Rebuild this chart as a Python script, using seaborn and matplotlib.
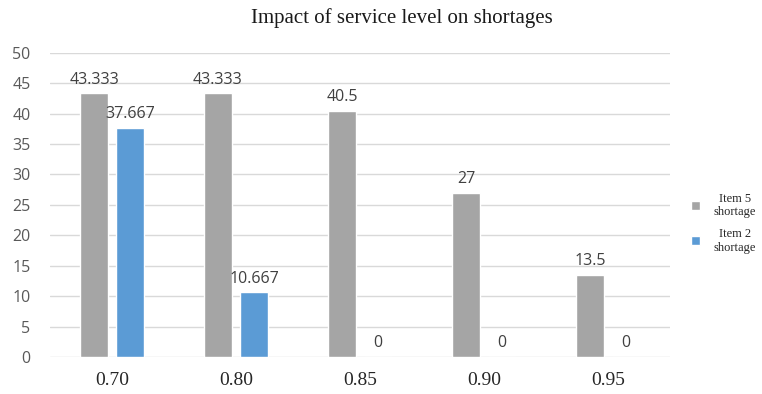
import numpy as np
import pandas as pd
import matplotlib
matplotlib.use("Agg")
import matplotlib.pyplot as plt
import seaborn as sns

# Service level vs shortages
levels = ["0.70", "0.80", "0.85", "0.90", "0.95"]
item5 = [43.333, 43.333, 40.5, 27, 13.5]
item2 = [37.667, 10.667, 0, 0, 0]
series = ["Item 5\nshortage", "Item 2\nshortage"]
labels5 = ["43.333", "43.333", "40.5", "27", "13.5"]
labels2 = ["37.667", "10.667", "0", "0", "0"]

df = pd.DataFrame({
    "level": levels * 2,
    "value": item5 + item2,
    "series": [series[0]] * len(levels) + [series[1]] * len(levels),
})

sns.set_style("white")
fig = plt.figure(figsize=(7.62, 3.94), dpi=100)
ax = fig.add_axes([0.0656, 0.094, 0.8136, 0.772])

sns.barplot(data=df, x="level", y="value", hue="series",
            palette=["#A5A5A5", "#5B9BD5"], saturation=1, width=0.58, gap=0.21,
            ax=ax, legend=True)

ax.set_ylim(0, 50)
ax.set_yticks(range(0, 51, 5))
ax.yaxis.grid(True, color="#D9D9D9", linewidth=1)
ax.set_axisbelow(True)
for s in ax.spines.values():
    s.set_visible(False)
ax.set_xlabel("")
ax.set_ylabel("")
ax.tick_params(axis="y", length=0, labelsize=11.5, labelcolor="#595959", pad=14)
ax.tick_params(axis="x", length=0, pad=11)
for t in ax.get_yticklabels():
    t.set_family("Open Sans")
for t in ax.get_xticklabels():
    t.set_family("Liberation Serif")
    t.set_fontsize(14)

# data labels
for cont, labs in zip(ax.containers, [labels5, labels2]):
    ax.bar_label(cont, labels=labs, padding=4, fontsize=11.5,
                 color="#404040", family="Open Sans")

leg = ax.legend(loc="center left", bbox_to_anchor=(1.022, 0.44), frameon=False,
                prop={"family": "Liberation Serif", "size": 9},
                handlelength=0.7, handleheight=0.7, labelspacing=0.75,
                handletextpad=1.1, borderaxespad=0.2)
for t in leg.get_texts():
    t.set_multialignment("center")

fig.text(0.527, 0.955, "Impact of service level on shortages", ha="center",
         va="center", family="Liberation Serif", fontsize=15, color="#1a1a1a")

fig.savefig("out.png", dpi=100)
